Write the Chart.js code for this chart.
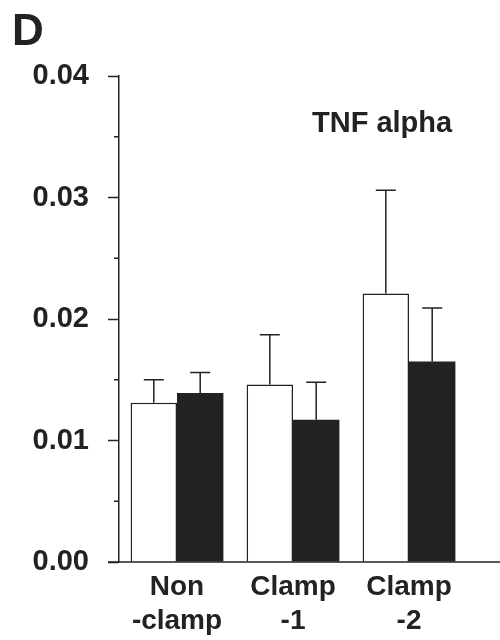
<!DOCTYPE html>
<html>
<head>
<meta charset="utf-8">
<script src="https://cdn.jsdelivr.net/npm/chart.js@4"></script>
<style>
  html, body { margin: 0; padding: 0; background: #fff; }
  #wrap { width: 500px; height: 640px; }
</style>
</head>
<body>
<div id="wrap"><canvas id="chart" width="500" height="640"></canvas></div>
<script>
// data
const categories = [['Non', '-clamp'], ['Clamp', '-1'], ['Clamp', '-2']];
const openMean = [0.0131, 0.0146, 0.0221];
const openErr = [0.0019, 0.0041, 0.0085];
const filledMean = [0.0139, 0.0117, 0.0165];
const filledErr = [0.0017, 0.0031, 0.0044];
const panelLetter = 'D';
const panelTitle = 'TNF alpha';

const ink = '#222';
Chart.defaults.font.family = '"Liberation Sans", Arial, sans-serif';
Chart.defaults.color = ink;

function isMajor(v) {
  return Math.abs(v * 100 - Math.round(v * 100)) < 1e-6;
}

// error bars, minor ticks, extended x axis line and the panel texts
const extras = {
  id: 'extras',
  afterDatasetsDraw(chart) {
    const ctx = chart.ctx;
    const y = chart.scales.y;
    const errs = [openErr, filledErr];
    ctx.save();
    ctx.strokeStyle = ink;
    ctx.lineWidth = 1.5;
    chart.data.datasets.forEach((ds, i) => {
      chart.getDatasetMeta(i).data.forEach((bar, j) => {
        const top = y.getPixelForValue(ds.data[j] + errs[i][j]);
        ctx.beginPath();
        ctx.moveTo(bar.x, bar.y);
        ctx.lineTo(bar.x, top);
        ctx.moveTo(bar.x - 10, top);
        ctx.lineTo(bar.x + 10, top);
        ctx.stroke();
      });
    });
    ctx.restore();
  },
  afterDraw(chart) {
    const ctx = chart.ctx;
    const y = chart.scales.y;
    const area = chart.chartArea;
    ctx.save();
    ctx.strokeStyle = ink;
    ctx.lineWidth = 1.5;
    y.ticks.forEach(t => {
      if (isMajor(t.value)) return;
      const py = y.getPixelForValue(t.value);
      ctx.beginPath();
      ctx.moveTo(area.left - 5, py);
      ctx.lineTo(area.left, py);
      ctx.stroke();
    });
    ctx.beginPath();
    ctx.moveTo(area.left - 11, area.bottom);
    ctx.lineTo(chart.width, area.bottom);
    ctx.stroke();

    ctx.fillStyle = ink;
    ctx.textBaseline = 'alphabetic';
    ctx.textAlign = 'left';
    ctx.font = 'bold 44px "Liberation Sans", Arial, sans-serif';
    ctx.fillText(panelLetter, 12, 45);
    ctx.font = 'bold 29px "Liberation Sans", Arial, sans-serif';
    ctx.fillText(panelTitle, 312, 132);
    ctx.restore();
  }
};

new Chart(document.getElementById('chart'), {
  type: 'bar',
  data: {
    labels: categories,
    datasets: [
      {
        label: 'open',
        data: openMean,
        backgroundColor: '#fff',
        borderColor: ink,
        borderWidth: 1.5,
        borderSkipped: 'bottom'
      },
      {
        label: 'filled',
        data: filledMean,
        backgroundColor: ink,
        borderColor: ink,
        borderWidth: 0
      }
    ]
  },
  options: {
    responsive: false,
    animation: false,
    events: [],
    layout: { padding: { left: 0, top: 76, right: 33, bottom: 0 } },
    datasets: { bar: { categoryPercentage: 0.8, barPercentage: 1.0 } },
    plugins: {
      legend: { display: false },
      tooltip: { enabled: false }
    },
    scales: {
      x: {
        grid: { display: false, drawTicks: false },
        border: { display: false },
        ticks: {
          padding: 8,
          color: ink,
          font: { size: 28, weight: 'bold', lineHeight: 1.22 }
        },
        afterFit(scale) { scale.height = 78; }
      },
      y: {
        min: 0,
        max: 0.04,
        grid: {
          drawOnChartArea: false,
          drawTicks: true,
          tickLength: 11,
          tickWidth: 1.5,
          tickColor: c => (c.tick && isMajor(c.tick.value)) ? ink : 'rgba(0,0,0,0)'
        },
        border: { display: true, color: ink, width: 1.5 },
        ticks: {
          stepSize: 0.005,
          autoSkip: false,
          padding: 19,
          color: ink,
          font: { size: 29, weight: 'bold' },
          callback: v => isMajor(v) ? v.toFixed(2) : ''
        },
        afterFit(scale) { scale.width = 119; }
      }
    }
  },
  plugins: [extras]
});
</script>
</body>
</html>
